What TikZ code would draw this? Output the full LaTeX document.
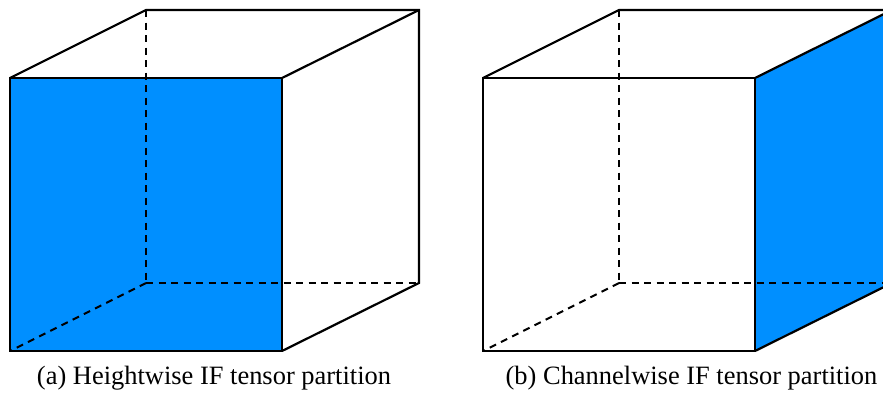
\documentclass[tikz,border=0pt]{standalone}
\usepackage{fontspec}
\setmainfont{Liberation Serif}
\definecolor{faceblue}{HTML}{008FFF}
\tikzset{
  edge/.style={draw=black,line width=2.2pt,line join=miter},
  hidden/.style={draw=black,line width=2pt,dash pattern=on 7pt off 5.5pt},
  fillface/.style={fill=faceblue,draw=none},
  captext/.style={inner sep=0pt,font=\fontsize{26.45pt}{29pt}\selectfont,anchor=base}
}
\begin{document}
\begin{tikzpicture}[x=1pt,y=-1pt]
\useasboundingbox (0,0) rectangle (883,392);
\begin{scope}
\clip (0,0) rectangle (883,392);
% left cube
\coordinate (aA) at (10,78); \coordinate (aB) at (282,78); \coordinate (aC) at (282,351); \coordinate (aD) at (10,351);
\coordinate (aE) at (146,10); \coordinate (aF) at (419,10); \coordinate (aG) at (419,283); \coordinate (aH) at (146,283);
\fill[fillface] (aA) -- (aB) -- (aC) -- (aD) -- cycle;
\draw[hidden] (aE) -- (aH);
\draw[hidden] (aH) -- (aG);
\draw[hidden] (aH) -- (aD);
\draw[edge] (aA) -- (aB) -- (aC) -- (aD) -- cycle;
\draw[edge] (aA) -- (aE) -- (aF) -- (aG) -- (aC);
\draw[edge] (aB) -- (aF);
% right cube
\coordinate (bA) at (483,78); \coordinate (bB) at (755,78); \coordinate (bC) at (755,351); \coordinate (bD) at (483,351);
\coordinate (bE) at (619,10); \coordinate (bF) at (892,10); \coordinate (bG) at (892,283); \coordinate (bH) at (619,283);
\fill[fillface] (bB) -- (bF) -- (bG) -- (bC) -- cycle;
\draw[hidden] (bE) -- (bH);
\draw[hidden] (bH) -- (bG);
\draw[hidden] (bH) -- (bD);
\draw[edge] (bA) -- (bB) -- (bC) -- (bD) -- cycle;
\draw[edge] (bA) -- (bE) -- (bF) -- (bG) -- (bC);
\draw[edge] (bB) -- (bF);
\end{scope}
\node[captext] (capa) at (214,384.5) {(a) Heightwise IF tensor partition};
\node[captext] (capb) at (691.5,384.5) {(b) Channelwise IF tensor partition};
\end{tikzpicture}
\end{document}
